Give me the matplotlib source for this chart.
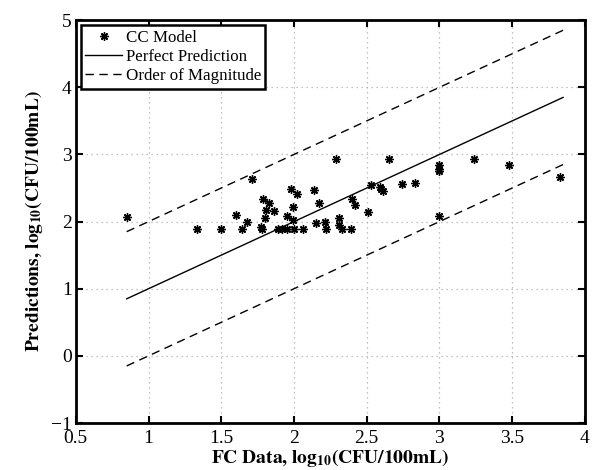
import numpy as np
import matplotlib
matplotlib.use('Agg')
import matplotlib.pyplot as plt

plt.rcParams['font.family'] = ['Liberation Serif', 'DejaVu Serif']
plt.rcParams['mathtext.fontset'] = 'stix'

# CC model predictions vs FC data (log10 CFU/100mL)
fc_data = [0.85, 1.33, 1.50, 1.60, 1.64, 1.68, 1.71, 1.77, 1.78, 1.79,
           1.83, 1.81, 1.86, 1.80, 1.89, 1.92, 1.95, 1.95, 1.99, 1.99,
           1.98, 2.02, 2.00, 2.06, 2.14, 2.17, 2.15, 2.21, 2.22, 2.29,
           2.31, 2.31, 2.33, 2.39, 2.40, 2.42, 2.51, 2.53, 2.59, 2.60,
           2.61, 2.65, 2.74, 2.83, 3.00, 3.00, 3.00, 3.00, 3.24, 3.48,
           3.83]
cc_pred = [2.07, 1.89, 1.89, 2.10, 1.89, 1.99, 2.63, 1.92, 1.89, 2.34,
           2.28, 2.17, 2.16, 2.06, 1.89, 1.89, 1.89, 2.09, 2.02, 2.22,
           2.48, 2.41, 1.89, 1.89, 2.47, 2.27, 1.98, 2.00, 1.89, 2.94,
           2.06, 1.95, 1.89, 1.89, 2.33, 2.25, 2.15, 2.55, 2.52, 2.48,
           2.45, 2.94, 2.56, 2.58, 2.84, 2.79, 2.75, 2.09, 2.94, 2.84,
           2.66]

line_x = [0.85, 3.85]

fig = plt.figure(figsize=(5.92, 4.70), dpi=100)
ax = fig.add_axes([0.128, 0.1, 0.86, 0.857])

ax.plot(fc_data, cc_pred, linestyle='none', marker=(8, 2, 0), color='k',
        markersize=6, markeredgewidth=1.0, label='CC Model')
ax.plot(line_x, line_x, 'k-', lw=1, label='Perfect Prediction')
ax.plot(line_x, [v + 1 for v in line_x], 'k--', lw=1, dashes=(6, 4),
        label='Order of Magnitude')
ax.plot(line_x, [v - 1 for v in line_x], 'k--', lw=1, dashes=(6, 4))

ax.set_xlim(0.5, 4)
ax.set_ylim(-1, 5)
ax.set_xticks(np.arange(0.5, 4.01, 0.5))
ax.set_xticklabels(['0.5', '1', '1.5', '2', '2.5', '3', '3.5', '4'])
ax.set_yticks(range(-1, 6))
ax.set_yticklabels(['\u22121', '0', '1', '2', '3', '4', '5'])

ax.grid(True, color='#b0b0b0', linestyle=(0, (1, 3)), lw=0.9)
ax.tick_params(direction='in', top=True, right=True, length=5, width=1.5,
               labelsize=14)
ax.tick_params(axis='x', pad=5)
ax.tick_params(axis='y', pad=3)
for s in ax.spines.values():
    s.set_linewidth(2)

ax.set_xlabel(r'$\mathbf{FC\ Data{,}\ log_{10}(CFU/100mL)}$', fontsize=14,
              labelpad=0)
ax.set_ylabel(r'$\mathbf{Predictions{,}\ log_{10}(CFU/100mL)}$', fontsize=14,
              labelpad=4)

leg = ax.legend(loc='upper left', fontsize=12.2, frameon=True, fancybox=False,
                framealpha=1, edgecolor='k', borderpad=0.25, labelspacing=0.2,
                handlelength=2.2, handletextpad=0.2, borderaxespad=0.3)
leg.get_frame().set_linewidth(1.8)

fig.savefig('out.png', dpi=100)
